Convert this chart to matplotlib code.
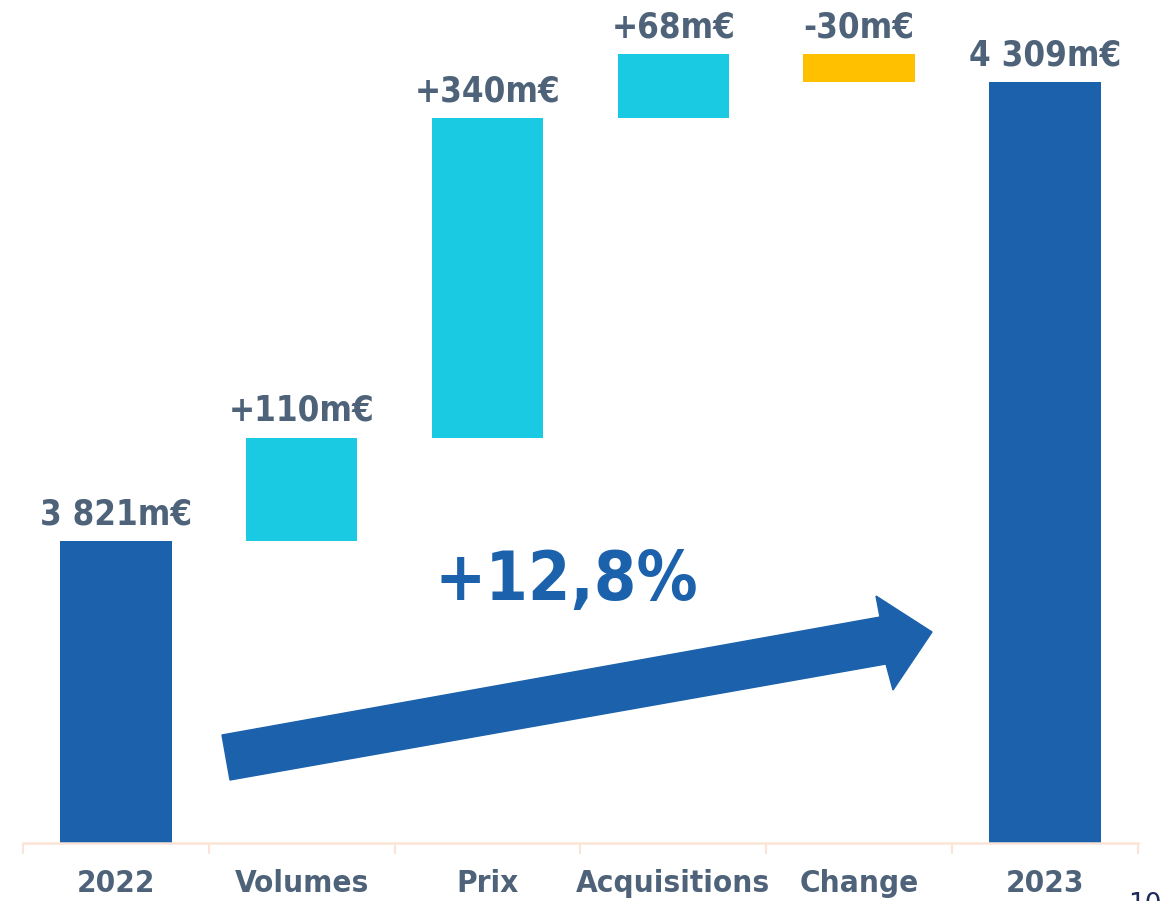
import matplotlib
matplotlib.use("Agg")
import matplotlib.pyplot as plt
from matplotlib.patches import Polygon

# ---- data ----
categories = ['2022', 'Volumes', 'Prix', 'Acquisitions', 'Change', '2023']
start_value = 3821
deltas = [110, 340, 68, -30]
end_value = 4309
growth_label = '+12,8%'
page_number = '10'

C_TOTAL = '#1B61AC'
C_UP = '#19CAE2'
C_DOWN = '#FFC000'
C_TEXT = '#4E6379'
C_AXIS = '#FCE4D6'

W, H = 1160, 901
fig = plt.figure(figsize=(W / 100, H / 100), dpi=100)
ax = fig.add_axes([23 / W, 58 / H, 1115 / W, 843 / H])

font = dict(family='DejaVu Sans', stretch='condensed', weight='bold')

# compute waterfall
bottoms, heights, colors, labels = [], [], [], []
bottoms.append(0); heights.append(start_value); colors.append(C_TOTAL)
labels.append(f"{start_value:,}".replace(',', ' ') + 'm€')
run = start_value
for d in deltas:
    lo = min(run, run + d)
    bottoms.append(lo); heights.append(abs(d))
    colors.append(C_UP if d >= 0 else C_DOWN)
    labels.append(f"{d:+d}m€")
    run += d
bottoms.append(0); heights.append(end_value); colors.append(C_TOTAL)
labels.append(f"{end_value:,}".replace(',', ' ') + 'm€')

x = list(range(len(categories)))
ax.bar(x, heights, bottom=bottoms, width=0.6, color=colors, zorder=2)

for xi, b, h, lab in zip(x, bottoms, heights, labels):
    ax.annotate(lab, (xi, b + h), xytext=(0, 12), textcoords='offset points',
                ha='center', va='baseline', fontsize=25, color=C_TEXT,
                annotation_clip=False, **font)

ax.set_xlim(-0.5, len(categories) - 0.5)
ax.set_ylim(3500, 3500 + 843 / 0.9406)

for s in ['top', 'right', 'left']:
    ax.spines[s].set_visible(False)
ax.spines['bottom'].set_color(C_AXIS)
ax.spines['bottom'].set_linewidth(1.8)
ax.set_yticks([])
ax.set_xticks(x)
ax.set_xticklabels(categories, fontsize=22.5, color=C_TEXT, **font)
ax.tick_params(axis='x', which='major', length=0, pad=19)
ax.set_xticks([i - 0.5 for i in range(len(categories) + 1)], minor=True)
ax.tick_params(axis='x', which='minor', length=8, width=1.5, color=C_AXIS)

# growth arrow (annotation shape, in pixel coordinates)
pts = [(222, 735), (880, 617), (876, 596), (932, 632), (893, 690), (886, 664), (230, 780)]
poly = Polygon([(px / W, 1 - py / H) for px, py in pts], closed=True,
               transform=fig.transFigure, color=C_TOTAL, zorder=3)
fig.add_artist(poly)

fig.text(566 / W, 1 - 600 / H, growth_label, ha='center', va='baseline',
         fontsize=49, color=C_TOTAL, **font)

fig.text(1128 / W, 1 - 912 / H, page_number, ha='left', va='baseline',
         fontsize=19, color='#1F2A5C')

fig.savefig('out.png', dpi=100)
